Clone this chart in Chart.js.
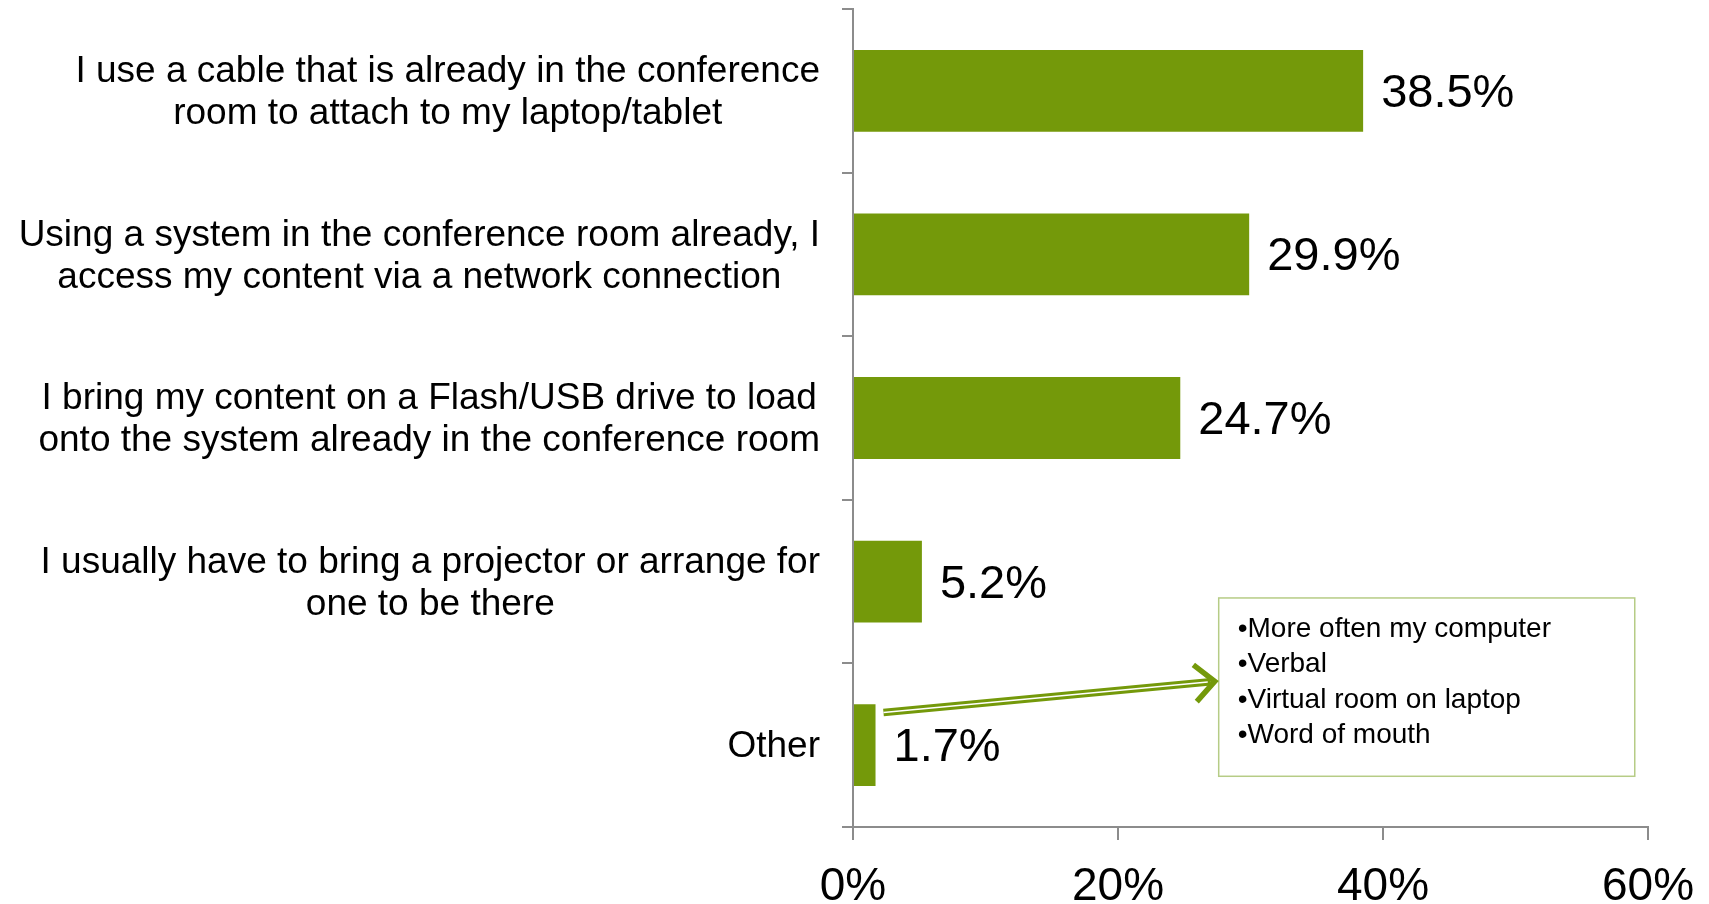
<!DOCTYPE html>
<html>
<head>
<meta charset="utf-8">
<script src="https://cdn.jsdelivr.net/npm/chart.js@4.4.0/dist/chart.umd.min.js"></script>
<style>
  html,body{margin:0;padding:0;background:#fff;}
  #wrap{position:relative;width:1709px;height:904px;}
</style>
</head>
<body>
<div id="wrap"><canvas id="c" width="1709" height="904"></canvas></div>
<script>
const categories = [
  ["I use a cable that is already in the conference", "room to attach to my laptop/tablet"],
  ["Using a system in the conference room already, I", "access my content via a network connection"],
  ["I bring my content on a Flash/USB drive to load", "onto the system already in the conference room"],
  ["I usually have to bring a projector or arrange for", "one to be there"],
  ["Other"]
];
const values = [38.5, 29.9, 24.7, 5.2, 1.7];
const valueLabels = ["38.5%", "29.9%", "24.7%", "5.2%", "1.7%"];
const xTicks = [0, 20, 40, 60];
const xTickLabels = ["0%", "20%", "40%", "60%"];
const otherNotes = ["•More often my computer", "•Verbal", "•Virtual room on laptop", "•Word of mouth"];

const FONT = "Arial, 'Liberation Sans', sans-serif";
const GREEN = '#74990A';
const AXIS = '#8C8C8C';

const labelPlugin = {
  id: 'customLabels',
  afterDatasetsDraw(chart) {
    const ctx = chart.ctx;
    const ys = chart.scales.y, xs = chart.scales.x;
    const area = chart.chartArea;
    ctx.save();
    ctx.font = '37px ' + FONT;
    ctx.fillStyle = '#000';
    ctx.textBaseline = 'middle';
    ctx.textAlign = 'center';
    const rightEdge = area.left - 33;
    const lh = 42;
    categories.forEach((lines, i) => {
      const cy = ys.getPixelForValue(i);
      const w = Math.max(...lines.map(l => ctx.measureText(l).width));
      const cx = rightEdge - w / 2;
      const y0 = cy - (lines.length - 1) * lh / 2 + 2;
      lines.forEach((l, k) => ctx.fillText(l, cx, y0 + k * lh));
    });
    // x tick labels
    ctx.font = '46px ' + FONT;
    xTicks.forEach((v, i) => {
      ctx.fillText(xTickLabels[i], xs.getPixelForValue(v), area.bottom + 60);
    });
    ctx.font = '47px ' + FONT;
    ctx.textAlign = 'left';
    const meta = chart.getDatasetMeta(0);
    meta.data.forEach((bar, i) => {
      ctx.fillText(valueLabels[i], bar.x + 18, bar.y + 3);
    });
    const bx0 = xs.getPixelForValue(27.6), bx1 = xs.getPixelForValue(59.0);
    const by0 = ys.getPixelForValue(3.10), by1 = ys.getPixelForValue(4.19);
    ctx.strokeStyle = '#B6CC86';
    ctx.lineWidth = 1.5;
    ctx.strokeRect(bx0, by0, bx1 - bx0, by1 - by0);
    ctx.font = '28px ' + FONT;
    ctx.fillStyle = '#000';
    otherNotes.forEach((t, k) => {
      ctx.fillText(t, bx0 + 19, by0 + 31 + k * 35.5);
    });
    const ax0 = xs.getPixelForValue(2.3), ay0 = ys.getPixelForValue(3.80);
    const ax1 = xs.getPixelForValue(27.3), ay1 = ys.getPixelForValue(3.61);
    const ang = Math.atan2(ay1 - ay0, ax1 - ax0);
    ctx.lineCap = 'butt';
    ctx.strokeStyle = GREEN;
    ctx.lineWidth = 7.5;
    ctx.beginPath(); ctx.moveTo(ax0, ay0); ctx.lineTo(ax1 - 4 * Math.cos(ang), ay1 - 4 * Math.sin(ang)); ctx.stroke();
    ctx.strokeStyle = '#fff';
    ctx.lineWidth = 1.5;
    ctx.beginPath(); ctx.moveTo(ax0, ay0); ctx.lineTo(ax1 - 7 * Math.cos(ang), ay1 - 7 * Math.sin(ang)); ctx.stroke();
    ctx.strokeStyle = GREEN;
    ctx.lineWidth = 5.5;
    ctx.lineJoin = 'miter';
    const hl = 27, ha = 0.75;
    ctx.beginPath();
    ctx.moveTo(ax1 - hl * Math.cos(ang - ha), ay1 - hl * Math.sin(ang - ha));
    ctx.lineTo(ax1, ay1);
    ctx.lineTo(ax1 - hl * Math.cos(ang + ha), ay1 - hl * Math.sin(ang + ha));
    ctx.stroke();
    ctx.restore();
  }
};

new Chart(document.getElementById('c'), {
  type: 'bar',
  data: {
    labels: categories,
    datasets: [{
      data: values,
      backgroundColor: GREEN,
      borderWidth: 0,
      barPercentage: 0.5,
      categoryPercentage: 1.0
    }]
  },
  options: {
    indexAxis: 'y',
    responsive: false,
    animation: false,
    devicePixelRatio: 1,
    layout: { padding: { left: 842, top: 9, right: 61, bottom: 64 } },
    plugins: { legend: { display: false }, tooltip: { enabled: false } },
    scales: {
      x: {
        min: 0, max: 60,
        afterBuildTicks(s) { s.ticks = xTicks.map(v => ({ value: v })); },
        ticks: { display: false },
        grid: { drawOnChartArea: false, drawTicks: true, tickLength: 13, color: AXIS, lineWidth: 2 },
        border: { color: AXIS, width: 2 }
      },
      y: {
        ticks: { display: false },
        grid: { drawOnChartArea: false, drawTicks: true, tickLength: 11, color: AXIS, lineWidth: 2, offset: true },
        border: { color: AXIS, width: 2 }
      }
    }
  },
  plugins: [labelPlugin]
});
</script>
</body>
</html>
